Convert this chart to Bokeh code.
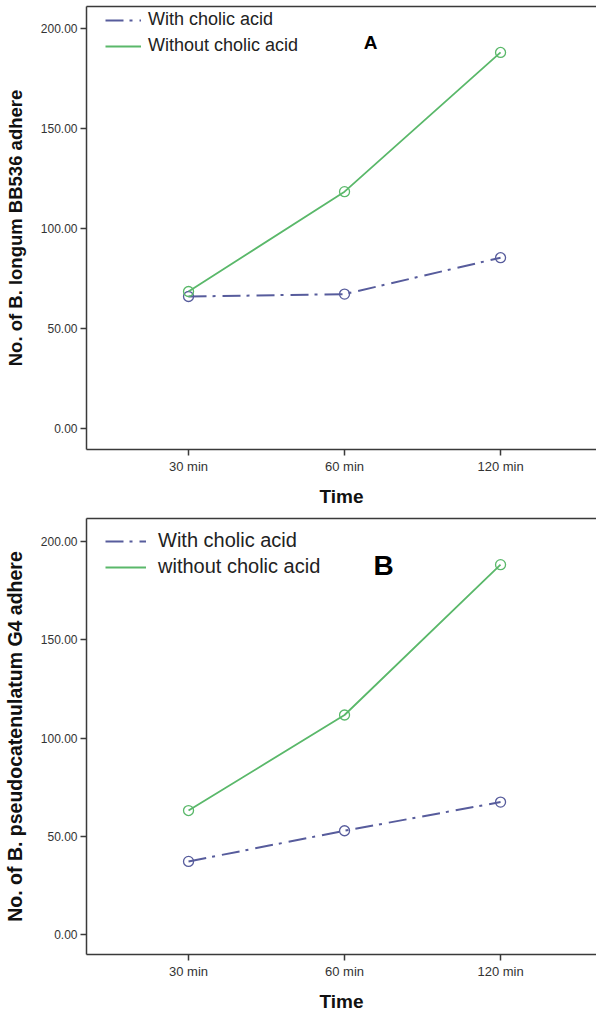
from bokeh.plotting import figure
from bokeh.layouts import column
from bokeh.models import (Range1d, FixedTicker, LinearAxis, Legend, LegendItem,
                          PrintfTickFormatter, Label)
from bokeh.embed import file_html
from bokeh.resources import INLINE

categories = ["30 min", "60 min", "120 min"]

a_with = [66.0, 67.2, 85.4]
a_without = [68.5, 118.4, 188.0]
b_with = [37.2, 52.8, 67.4]
b_without = [63.1, 111.7, 188.2]

a_labels = ["With cholic acid", "Without cholic acid"]
b_labels = ["With cholic acid", "without cholic acid"]
a_ylabel = "No. of B. longum BB536 adhere"
b_ylabel = "No. of B. pseudocatenulatum G4 adhere"
y_ticks = [0, 50, 100, 150, 200]

BLUE = "#575c9c"
GREEN = "#5ab86a"
FONT = "Liberation Sans"
AXC = "#3a3a3a"


def panel(w_vals, wo_vals, labels, ylabel, ylabel_size, letter, letter_xy, letter_size,
          height, border_top, y_range, legend_top, legend_font,
          glyph_w, glyph_h, standoff, spacing):
    xs = list(range(len(categories)))
    p = figure(width=596, height=height, output_backend="svg", toolbar_location=None,
               x_range=Range1d(-0.654, 2.615), y_range=Range1d(*y_range),
               min_border_left=86, min_border_right=0, min_border_top=border_top,
               min_border_bottom=0)
    p.grid.visible = False
    p.outline_line_color = None
    p.background_fill_color = "white"

    xa = p.below[0]
    ya = p.left[0]
    xa.ticker = FixedTicker(ticks=xs)
    xa.major_label_overrides = {i: c for i, c in enumerate(categories)}
    xa.axis_label = "Time"
    ya.ticker = FixedTicker(ticks=y_ticks)
    ya.formatter = PrintfTickFormatter(format="%.2f")
    ya.axis_label = ylabel
    for ax in (xa, ya):
        ax.axis_line_color = AXC
        ax.axis_line_width = 1.5
        ax.major_tick_line_color = AXC
        ax.major_tick_line_width = 1.5
        ax.major_tick_out = 6
        ax.major_tick_in = 0
        ax.minor_tick_line_color = None
        ax.major_label_text_font = FONT
        ax.major_label_text_color = "#333333"
        ax.major_label_standoff = 3
        ax.axis_label_text_font = FONT
        ax.axis_label_text_font_style = "bold"
        ax.axis_label_text_color = "#111111"
    xa.major_label_text_font_size = "13px"
    ya.major_label_text_font_size = "12px"
    xa.axis_label_text_font_size = "19px"
    ya.axis_label_text_font_size = ylabel_size
    xa.axis_label_standoff = 9
    ya.axis_label_standoff = 12

    # top frame line
    top = LinearAxis(ticker=FixedTicker(ticks=[]), major_label_text_font_size="0px",
                     major_tick_out=0, minor_tick_out=0, major_tick_in=0, minor_tick_in=0,
                     major_label_standoff=0, axis_line_color=AXC, axis_line_width=1.5,
                     minor_tick_line_color=None, major_tick_line_color=None)
    p.add_layout(top, "above")

    r1 = p.line(xs, w_vals, line_color=BLUE, line_width=2, line_dash="18 6 3 7")
    p.scatter(xs, w_vals, marker="circle", size=10, fill_color=None,
              line_color=BLUE, line_width=1.3)
    r2 = p.line(xs, wo_vals, line_color=GREEN, line_width=1.8)
    p.scatter(xs, wo_vals, marker="circle", size=10, fill_color=None,
              line_color=GREEN, line_width=1.3)

    frame_h = height - border_top - 59
    leg_h = 2 * 2 + 2 * glyph_h + spacing
    leg = Legend(items=[LegendItem(label=labels[0], renderers=[r1]),
                        LegendItem(label=labels[1], renderers=[r2])],
                 location=(19, frame_h - legend_top - leg_h), padding=2, margin=0,
                 spacing=spacing,
                 glyph_width=glyph_w, glyph_height=glyph_h, label_height=glyph_h,
                 label_standoff=standoff, border_line_color=None,
                 background_fill_alpha=0, label_text_font=FONT,
                 label_text_font_size=legend_font, label_text_color="#222222")
    p.add_layout(leg, "center")

    p.add_layout(Label(x=letter_xy[0], y=letter_xy[1], text=letter,
                       text_font=FONT, text_font_style="bold",
                       text_font_size=letter_size, text_align="center",
                       text_baseline="middle", text_color="black"))
    return p


p1 = panel(a_with, a_without, a_labels, a_ylabel, "18.5px", "A", (1.167, 193), "19px",
           509, 6, (-10.47, 210.97), 2, "18px", 36, 20, 7, 5)
p2 = panel(b_with, b_without, b_labels, b_ylabel, "19.5px", "B", (1.25, 187.8), "28px",
           505, 9, (-10.15, 211.68), 10, "20px", 41, 22, 12, 3)

layout = column(p1, p2, spacing=0)
open("out.html", "w").write(file_html(layout, INLINE))
